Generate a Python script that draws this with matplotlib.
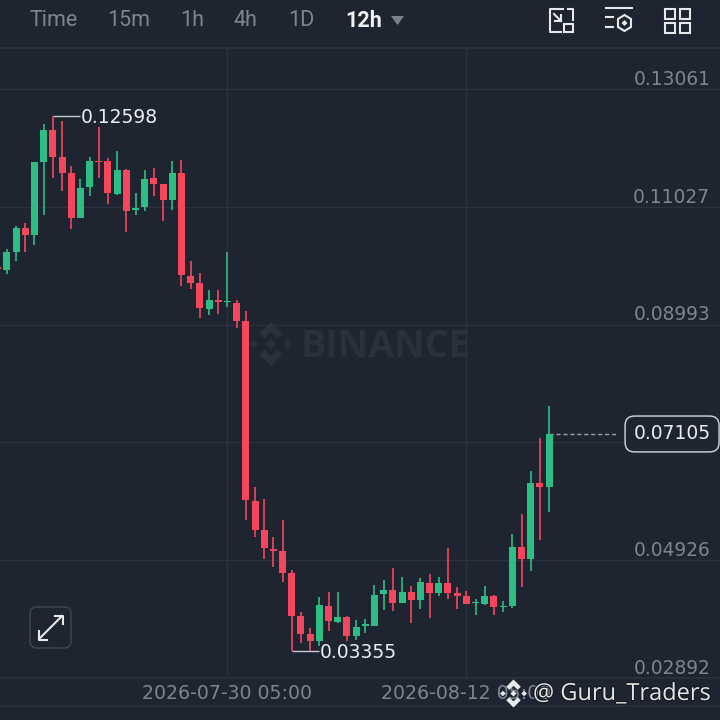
import matplotlib
matplotlib.use('Agg')
import matplotlib.pyplot as plt
from matplotlib.patches import FancyBboxPatch, Polygon, Rectangle
import matplotlib.patheffects as pe
import numpy as np

# 12h candles, left to right
opens = [0.09988, 0.09936, 0.10247, 0.10661, 0.10540, 0.11801, 0.12353, 0.11887, 0.11611, 0.10834,
         0.11369, 0.11818, 0.11818, 0.11248, 0.11663, 0.10972, 0.11024, 0.11524, 0.11421, 0.11145,
         0.11611, 0.09832, 0.09711, 0.09262, 0.09418, 0.09383, 0.09366, 0.09055, 0.05947, 0.05446,
         0.05118, 0.05084, 0.04704, 0.03962, 0.03651, 0.03530, 0.04134, 0.03858, 0.03944, 0.03616,
         0.03789, 0.03789, 0.04341, 0.04410, 0.04186, 0.04376, 0.04238, 0.04531, 0.04359, 0.04531,
         0.04359, 0.04307, 0.04186, 0.04169, 0.04307, 0.04117, 0.04134, 0.05153, 0.04946, 0.06258,
         0.06189]
highs = [0.10074, 0.10299, 0.10696, 0.10747, 0.10540, 0.12457, 0.12598, 0.12509, 0.11732, 0.11507,
         0.11887, 0.12405, 0.11870, 0.11991, 0.11680, 0.11265, 0.11663, 0.11697, 0.11421, 0.11818,
         0.11835, 0.10091, 0.09884, 0.09591, 0.09591, 0.10247, 0.09418, 0.09228, 0.06189, 0.05982,
         0.05326, 0.05619, 0.04756, 0.04031, 0.03754, 0.04290, 0.04376, 0.04376, 0.03962, 0.03892,
         0.03910, 0.04497, 0.04583, 0.04790, 0.04635, 0.04480, 0.04618, 0.04687, 0.04635, 0.05136,
         0.04462, 0.04393, 0.04255, 0.04480, 0.04324, 0.04221, 0.05377, 0.05723, 0.06465, 0.07035,
         0.07588]
lows = [0.09850, 0.09867, 0.10091, 0.10247, 0.10368, 0.10886, 0.11522, 0.11300, 0.10644, 0.10834,
        0.11214, 0.11522, 0.11076, 0.11231, 0.10592, 0.10886, 0.10955, 0.11214, 0.10782, 0.10972,
        0.09660, 0.09608, 0.09107, 0.09159, 0.09176, 0.09297, 0.08934, 0.05619, 0.05326, 0.04946,
        0.04808, 0.04549, 0.03355, 0.03495, 0.03355, 0.03444, 0.03703, 0.03841, 0.03530, 0.03547,
        0.03668, 0.03789, 0.04065, 0.04048, 0.04186, 0.03841, 0.04082, 0.03930, 0.04307, 0.04255,
        0.04082, 0.04169, 0.03979, 0.04151, 0.03979, 0.04031, 0.04100, 0.04462, 0.04739, 0.05274,
        0.05757]
closes = [0.09953, 0.10247, 0.10661, 0.10540, 0.11801, 0.12353, 0.11887, 0.11611, 0.10834, 0.11352,
          0.11818, 0.11801, 0.11265, 0.11663, 0.10955, 0.11006, 0.11507, 0.11421, 0.11145, 0.11611,
          0.09850, 0.09711, 0.09280, 0.09418, 0.09383, 0.09401, 0.09055, 0.05964, 0.05446, 0.05136,
          0.05084, 0.04704, 0.03962, 0.03651, 0.03530, 0.04151, 0.03875, 0.03944, 0.03616, 0.03772,
          0.03824, 0.04324, 0.04410, 0.04186, 0.04376, 0.04238, 0.04549, 0.04359, 0.04531, 0.04359,
          0.04307, 0.04169, 0.04203, 0.04307, 0.04117, 0.04134, 0.05153, 0.04946, 0.06258, 0.06189,
          0.07105]

price_ticks = [0.13061, 0.11027, 0.08993, 0.0696, 0.04926, 0.02892]
price_labels = ['0.13061', '0.11027', '0.08993', '', '0.04926', '0.02892']
date_ticks = [25, 51]
date_labels = ['2026-07-30 05:00', '2026-08-12 05:00']
high_idx, high_val = 6, 0.12598
low_idx, low_val = 32, 0.03355
last_val = 0.07105
menu = ['Time', '15m', '1h', '4h', '1D']
menu_x = [29, 107, 180, 233, 288]

BG = '#1e2530'
GRID = '#2c323d'
RED = '#f6465d'
GREEN = '#2ebd85'
GREY = '#7d8592'
LIGHT = '#eaecef'
plt.rcParams['font.family'] = ['DejaVu Sans']

fig = plt.figure(figsize=(7.2, 7.2), dpi=100, facecolor=BG)


def logo(a, cx, cy, s, color, z=1):
    top = [(0, -1), (.52, -.48), (.3, -.26), (0, -.56), (-.3, -.26), (-.52, -.48)]
    for sign in (1, -1):
        a.add_patch(Polygon([(cx + px * s, cy + sign * py * s) for px, py in top], fc=color, ec='none', zorder=z))
        a.add_patch(Polygon([(cx + sign * (.76 + dx) * s, cy + dy * s) for dx, dy in [(-.2, 0), (0, -.2), (.2, 0), (0, .2)]],
                            fc=color, ec='none', zorder=z))
    a.add_patch(Polygon([(cx - .22 * s, cy), (cx, cy - .22 * s), (cx + .22 * s, cy), (cx, cy + .22 * s)],
                        fc=color, ec='none', zorder=z))


def pixel_axes(z):
    a = fig.add_axes([0, 0, 1, 1], zorder=z)
    a.set_xlim(0, 720)
    a.set_ylim(720, 0)
    a.axis('off')
    a.patch.set_alpha(0)
    return a


# watermark sits under the candles
bg = pixel_axes(0)
logo(bg, 271, 344, 22, '#2b313b')
bg.text(301, 347, 'BINANCE', color='#2b313b', fontsize=27, fontweight='bold', va='center', family='Open Sans')

# main chart, 48..678 px tall
ax = fig.add_axes([0, 42 / 720, 1, 630 / 720], zorder=1)
ax.patch.set_alpha(0)
x = np.arange(len(opens))
o, h, l, c = map(np.array, (opens, highs, lows, closes))
cols = [GREEN if c[i] >= o[i] else RED for i in x]
ax.vlines(x, l, h, colors=cols, linewidth=1.2, zorder=3)
ax.bar(x, np.abs(c - o), bottom=np.minimum(o, c), width=0.76, color=cols, zorder=3)
ax.set_xlim(0.25, 78.6)
ax.set_ylim(0.02892, 0.13769)
ax.set_yticks(price_ticks)
ax.set_xticks(date_ticks)
ax.set_xticklabels([])
ax.set_yticklabels([])
ax.tick_params(length=0)
ax.grid(True, color=GRID, linewidth=1)
ax.set_axisbelow(True)
for side in ('left', 'right'):
    ax.spines[side].set_visible(False)
for side in ('top', 'bottom'):
    ax.spines[side].set_color(GRID)
    ax.spines[side].set_linewidth(1.2)

for val, txt in zip(price_ticks, price_labels):
    ax.annotate(txt, xy=(1, val), xycoords=('axes fraction', 'data'), xytext=(-7, 7), textcoords='offset points',
                ha='right', va='center', color=GREY, fontsize=13.4)
for pos, txt in zip(date_ticks, date_labels):
    ax.annotate(txt, xy=(pos, 0), xycoords=('data', 'axes fraction'), xytext=(0, -11.5), textcoords='offset points',
                ha='center', va='center', color=GREY, fontsize=13.6)

# high / low markers
ax.hlines(high_val, high_idx, high_idx + 3, colors='#c8ccd2', linewidth=1, zorder=2)
ax.annotate('%.5f' % high_val, xy=(high_idx + 3, high_val), xytext=(0, -1), textcoords='offset points',
            ha='left', va='center', color=LIGHT, fontsize=13.5)
ax.hlines(low_val, low_idx, low_idx + 3, colors='#c8ccd2', linewidth=1, zorder=2)
ax.annotate('%.5f' % low_val, xy=(low_idx + 3, low_val), xytext=(0, -1), textcoords='offset points',
            ha='left', va='center', color=LIGHT, fontsize=13.5)

# last price
ax.hlines(last_val, x[-1], 67.5, colors='#9aa0aa', linewidth=1, linestyles=(0, (3, 2)), zorder=2)
ax.annotate('%.5f' % last_val, xy=(1, last_val), xycoords=('axes fraction', 'data'), xytext=(-34.5, 0),
            textcoords='offset points', ha='center', va='center', color=LIGHT, fontsize=13.5,
            bbox=dict(boxstyle='round,pad=0.45,rounding_size=0.5', fc=BG, ec='#d5d8dc', lw=1))

# everything else is screen furniture
ui = pixel_axes(2)
ui.plot([0, 720], [706, 706], color=GRID, lw=1.2)
for name, px in zip(menu, menu_x):
    ui.text(px, 21, name, color=GREY, fontsize=15.5, va='center', family='Roboto')
ui.text(345, 21, '12h', color='#f0f1f3', fontsize=15.5, va='center', family='Roboto', fontweight='bold')
ui.add_patch(Polygon([(391, 16), (404, 16), (397.5, 25)], fc='#7a808a', ec='none'))

ICON = '#e6e8ea'
# icon 1
ui.plot([563, 550, 550, 561], [9, 9, 32, 32], color=ICON, lw=1.5)
ui.plot([568, 573, 573], [9, 9, 20], color=ICON, lw=1.5)
ui.add_patch(Rectangle((563.5, 24), 9.5, 8, fc='none', ec=ICON, lw=1.5))
ui.plot([554, 561], [14, 21], color=ICON, lw=1.5)
ui.plot([555, 561, 561], [21, 21, 15], color=ICON, lw=1.5)
# icon 2
ui.plot([606, 632], [8, 8], color=ICON, lw=1.5)
ui.plot([606, 613], [17, 17], color=ICON, lw=1.5)
ui.plot([606, 613], [27, 27], color=ICON, lw=1.5)
ui.add_patch(Polygon([(624.5, 15), (631, 19), (631, 27), (624.5, 31), (618, 27), (618, 19)], fc='none', ec=ICON, lw=1.5))
ui.add_patch(Polygon([(624.5, 20), (627.5, 23), (624.5, 26), (621.5, 23)], fc=ICON, ec='none'))
# icon 3
for sx in (665, 680):
    for sy in (9, 23):
        ui.add_patch(Rectangle((sx, sy), 9.5, 9.5, fc='none', ec=ICON, lw=1.5))

# expand button
ui.add_patch(FancyBboxPatch((30, 607), 41, 41, boxstyle='round,pad=0,rounding_size=7', fc=BG, ec='#3b424d', lw=1.2))
ui.plot([39, 62], [639, 616], color=ICON, lw=1.5)
ui.plot([55, 63, 63], [616, 616, 624], color=ICON, lw=1.5)
ui.plot([39, 39, 47], [631, 640, 640], color=ICON, lw=1.5)

# repost watermark
logo(ui, 513.5, 693.5, 14, '#e8e9eb', z=5)
ui.text(533, 694, '@ Guru_Traders', color='#e4e5e7', fontsize=17, va='center', family='Open Sans', zorder=5,
        path_effects=[pe.withStroke(linewidth=1.5, foreground='#15181f')])

fig.savefig('out.png', dpi=100, facecolor=BG)
